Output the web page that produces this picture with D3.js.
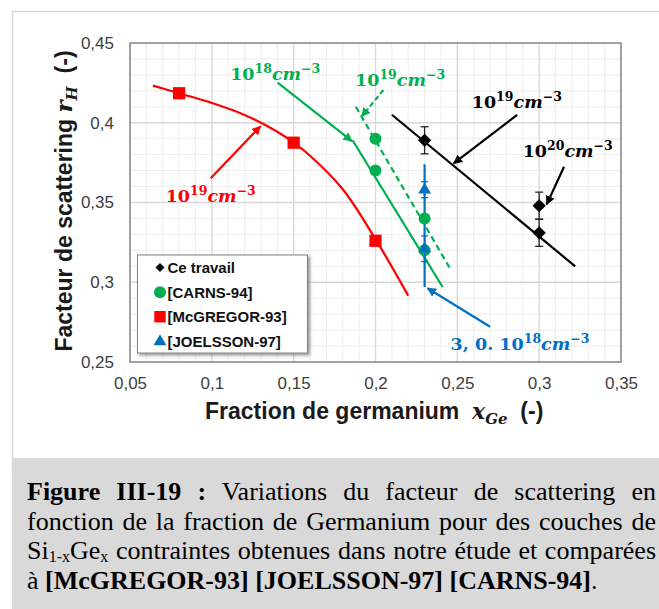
<!DOCTYPE html>
<html><head><meta charset="utf-8">
<script src="https://cdn.jsdelivr.net/npm/d3@7"></script>
<style>
body{margin:0;background:#fff;}
#wrap{position:relative;width:659px;height:609px;overflow:hidden;background:#fff;}
svg{position:absolute;left:0;top:0;}
#cap{position:absolute;left:27px;top:477px;width:629px;font-family:"Liberation Serif","Times New Roman",serif;font-size:26px;line-height:29.5px;color:#000;}
#cap div{text-align:justify;text-align-last:justify;height:29.5px;}
#cap div.last{text-align:left;text-align-last:left;}
#cap sub{font-size:16px;vertical-align:-3px;line-height:0;}
</style></head>
<body><div id="wrap"><svg id="chart" width="659" height="609"></svg>
<div id="cap">
<div><b>Figure III-19 :</b> Variations du facteur de scattering en</div>
<div>fonction de la fraction de Germanium pour des couches de</div>
<div>Si<sub>1-x</sub>Ge<sub>x</sub> contraintes obtenues dans notre étude et comparées</div>
<div class="last">à <b>[McGREGOR-93] [JOELSSON-97] [CARNS-94]</b>.</div>
</div></div>
<script>
// ---------- data ----------
const xTickVals = [0.05, 0.1, 0.15, 0.2, 0.25, 0.3, 0.35];
const xTickLabels = ["0,05", "0,1", "0,15", "0,2", "0,25", "0,3", "0,35"];
const yTickVals = [0.25, 0.3, 0.35, 0.4, 0.45];
const yTickLabels = ["0,25", "0,3", "0,35", "0,4", "0,45"];

const seriesNames = ["Ce travail", "[CARNS-94]", "[McGREGOR-93]", "[JOELSSON-97]"];

// Ce travail
const ceX = [0.23, 0.30, 0.30];
const ceY = [0.389, 0.348, 0.331];
const ceErr = [0.0085, 0.0085, 0.0085];
const ceFitX = [0.21, 0.322];
const ceFitY = [0.405, 0.310];

// CARNS-94
const carnsX = [0.20, 0.20, 0.23, 0.23];
const carnsY = [0.390, 0.370, 0.340, 0.320];
const carns18FitX = [0.186, 0.241];
const carns18FitY = [0.389, 0.297];
const carns19FitX = [0.188, 0.2455];
const carns19FitY = [0.410, 0.3087];

// McGREGOR-93
const mcgX = [0.08, 0.15, 0.20];
const mcgY = [0.4185, 0.3875, 0.326];
const mcgFitX = [0.064, 0.08, 0.10, 0.12, 0.14, 0.15, 0.16, 0.18, 0.20, 0.22];
const mcgFitY = [0.4233, 0.4185, 0.4124, 0.4049, 0.3944, 0.3875, 0.3793, 0.3583, 0.327, 0.2916];

// JOELSSON-97
const joelX = [0.23, 0.23];
const joelY = [0.358, 0.321];
const joelErr = [0.005, 0.008];
const joelLineX = [0.23, 0.23];
const joelLineY = [0.374, 0.297];

// annotations (data coordinates)
const arrows = [
  {x1: 0.2865, y1: 0.4049, x2: 0.2478, y2: 0.3745, c: "black", dash: false},
  {x1: 0.3152, y1: 0.3724, x2: 0.3046, y2: 0.3488, c: "black", dash: false},
  {x1: 0.1402, y1: 0.4251, x2: 0.1856, y2: 0.3885, c: "green", dash: false},
  {x1: 0.2048, y1: 0.4205, x2: 0.1916, y2: 0.4040, c: "green", dash: true},
  {x1: 0.0993, y1: 0.3652, x2: 0.1297, y2: 0.3978, c: "red", dash: false},
  {x1: 0.2700, y1: 0.2721, x2: 0.2318, y2: 0.2962, c: "blue", dash: false}
];
const labels = [
  {x: 0.1112, y: 0.4265, c: "green", pre: "", exp: "18"},
  {x: 0.1875, y: 0.4228, c: "green", pre: "", exp: "19"},
  {x: 0.2588, y: 0.4090, c: "black", pre: "", exp: "19"},
  {x: 0.2899, y: 0.3787, c: "black", pre: "", exp: "20"},
  {x: 0.0718, y: 0.3505, c: "red", pre: "", exp: "19"},
  {x: 0.2459, y: 0.2575, c: "blue", pre: "3, 0. ", exp: "18"}
];

const colors = {black: "#000000", green: "#00B050", red: "#FF0000", blue: "#0070C0"};

// ---------- chart ----------
const svg = d3.select("#chart");
const x = d3.scaleLinear().domain([0.05, 0.35]).range([130, 621]);
const y = d3.scaleLinear().domain([0.25, 0.45]).range([362, 43]);

// outer frame & caption background
svg.append("rect").attr("x", 12.5).attr("y", 11.5).attr("width", 700).attr("height", 460)
  .attr("fill", "#fff").attr("stroke", "#d9d9d9").attr("stroke-width", 1.5);
svg.append("rect").attr("x", 12).attr("y", 458).attr("width", 660).attr("height", 160).attr("fill", "#d9d9d9");

const defs = svg.append("defs");
Object.entries(colors).forEach(([k, c]) => {
  defs.append("marker").attr("id", "ah-" + k).attr("viewBox", "0 0 10 10")
    .attr("refX", 9).attr("refY", 5).attr("markerWidth", 4.2).attr("markerHeight", 4.2)
    .attr("markerUnits", "strokeWidth").attr("orient", "auto")
    .append("path").attr("d", "M0,0 L10,5 L0,10 Z").attr("fill", c);
});
const sh = defs.append("filter").attr("id", "shadow").attr("x", "-10%").attr("y", "-10%").attr("width", "130%").attr("height", "130%");
sh.append("feDropShadow").attr("dx", 2).attr("dy", 2).attr("stdDeviation", 1.8)
  .attr("flood-color", "#000").attr("flood-opacity", 0.4);
const clip = defs.append("clipPath").attr("id", "plotclip");
clip.append("rect").attr("x", 130).attr("y", 43).attr("width", 491).attr("height", 319);

// grid
const minorX = d3.range(5, 36, 1).map(v => v / 100);
const minorY = d3.range(25, 46, 1).map(v => v / 100);
const grid = svg.append("g");
grid.selectAll(".mx").data(minorX).join("line")
  .attr("x1", d => x(d)).attr("x2", d => x(d)).attr("y1", 43).attr("y2", 362)
  .attr("stroke", "#eeeeee").attr("stroke-width", 1);
grid.selectAll(".my").data(minorY).join("line")
  .attr("y1", d => y(d)).attr("y2", d => y(d)).attr("x1", 130).attr("x2", 621)
  .attr("stroke", "#eeeeee").attr("stroke-width", 1);
grid.selectAll(".Mx").data(xTickVals).join("line")
  .attr("x1", d => x(d)).attr("x2", d => x(d)).attr("y1", 43).attr("y2", 362)
  .attr("stroke", "#d9d9d9").attr("stroke-width", 1.3);
grid.selectAll(".My").data(yTickVals).join("line")
  .attr("y1", d => y(d)).attr("y2", d => y(d)).attr("x1", 130).attr("x2", 621)
  .attr("stroke", "#d9d9d9").attr("stroke-width", 1.3);
svg.append("rect").attr("x", 130).attr("y", 43).attr("width", 491).attr("height", 319)
  .attr("fill", "none").attr("stroke", "#808080").attr("stroke-width", 1.3);

// axes
const xAxis = svg.append("g").attr("transform", "translate(0,362)")
  .call(d3.axisBottom(x).tickValues(xTickVals).tickFormat((d, i) => xTickLabels[i]).tickSize(0).tickPadding(15));
const yAxis = svg.append("g").attr("transform", "translate(130,0)")
  .call(d3.axisLeft(y).tickValues(yTickVals).tickFormat((d, i) => yTickLabels[i]).tickSize(0).tickPadding(16));
[xAxis, yAxis].forEach(a => {
  a.select(".domain").remove();
  a.selectAll("text").attr("font-family", "'Liberation Sans', Arial, sans-serif")
    .attr("font-size", 17).attr("fill", "#404040");
});

// axis titles
const mathFont = "'DejaVu Serif', serif";
const xt = svg.append("text").attr("x", 205).attr("y", 419)
  .attr("font-family", "'Liberation Sans', Arial, sans-serif").attr("font-size", 23)
  .attr("font-weight", "bold").attr("fill", "#1a1a1a").style("white-space", "pre");
xt.append("tspan").text("Fraction de germanium  ");
xt.append("tspan").attr("font-family", mathFont).attr("font-style", "italic").attr("font-size", 22).text("x");
xt.append("tspan").attr("font-family", mathFont).attr("font-style", "italic").attr("font-size", 15).attr("dy", 5).text("Ge");
xt.append("tspan").attr("dy", -5).text("  (-)");

const yt = svg.append("text").attr("transform", "translate(72,201) rotate(-90)")
  .attr("text-anchor", "middle")
  .attr("font-family", "'Liberation Sans', Arial, sans-serif").attr("font-size", 23)
  .attr("font-weight", "bold").attr("fill", "#1a1a1a").style("white-space", "pre");
yt.append("tspan").text("Facteur de scattering ");
yt.append("tspan").attr("font-family", mathFont).attr("font-style", "italic").attr("font-size", 23).text("r");
yt.append("tspan").attr("font-family", mathFont).attr("font-style", "italic").attr("font-size", 15).attr("dy", 5).text("H");
yt.append("tspan").attr("dy", -5).text("  (-)");

// plot content
const plot = svg.append("g").attr("clip-path", "url(#plotclip)");
const zip = (a, b) => a.map((v, i) => [v, b[i]]);
const lineC = d3.line().x(d => x(d[0])).y(d => y(d[1])).curve(d3.curveCatmullRom);
const line = d3.line().x(d => x(d[0])).y(d => y(d[1]));

plot.append("path").attr("d", lineC(zip(mcgFitX, mcgFitY)))
  .attr("fill", "none").attr("stroke", colors.red).attr("stroke-width", 2.2);
plot.append("path").attr("d", line(zip(carns18FitX, carns18FitY)))
  .attr("fill", "none").attr("stroke", colors.green).attr("stroke-width", 2.2);
plot.append("path").attr("d", line(zip(carns19FitX, carns19FitY)))
  .attr("fill", "none").attr("stroke", colors.green).attr("stroke-width", 2.2).attr("stroke-dasharray", "6,4");
plot.append("path").attr("d", line(zip(ceFitX, ceFitY)))
  .attr("fill", "none").attr("stroke", colors.black).attr("stroke-width", 2.2);

// arrows
arrows.forEach(a => {
  plot.append("line").attr("x1", x(a.x1)).attr("y1", y(a.y1)).attr("x2", x(a.x2)).attr("y2", y(a.y2))
    .attr("stroke", colors[a.c]).attr("stroke-width", 2.2)
    .attr("stroke-dasharray", a.dash ? "5,3" : null)
    .attr("marker-end", `url(#ah-${a.c})`);
});

// blue vertical line
plot.append("path").attr("d", line(zip(joelLineX, joelLineY)))
  .attr("fill", "none").attr("stroke", colors.blue).attr("stroke-width", 2.2);

// error bars
function errBars(xs, ys, es, col, w) {
  const g = plot.append("g").attr("stroke", col).attr("stroke-width", 1.3);
  xs.forEach((xv, i) => {
    g.append("line").attr("x1", x(xv)).attr("x2", x(xv)).attr("y1", y(ys[i] - es[i])).attr("y2", y(ys[i] + es[i]));
    [ys[i] - es[i], ys[i] + es[i]].forEach(v => {
      g.append("line").attr("x1", x(xv) - w).attr("x2", x(xv) + w).attr("y1", y(v)).attr("y2", y(v));
    });
  });
}

// markers
const sq = d3.symbol().type(d3.symbolSquare);
plot.selectAll(".mcg").data(zip(mcgX, mcgY)).join("path")
  .attr("d", sq.size(150)()).attr("transform", d => `translate(${x(d[0])},${y(d[1])})`).attr("fill", colors.red);
plot.selectAll(".carns").data(zip(carnsX, carnsY)).join("circle")
  .attr("cx", d => x(d[0])).attr("cy", d => y(d[1])).attr("r", 6).attr("fill", colors.green);
errBars(joelX, joelY, joelErr, colors.blue, 3.5);
plot.selectAll(".joel").data(zip(joelX, joelY)).join("path")
  .attr("d", d3.symbol().type(d3.symbolTriangle).size(70)()).attr("transform", d => `translate(${x(d[0])},${y(d[1])})`).attr("fill", colors.blue);
errBars(ceX, ceY, ceErr, "#222", 4);
plot.selectAll(".ce").data(zip(ceX, ceY)).join("path")
  .attr("d", sq.size(88)()).attr("transform", d => `translate(${x(d[0])},${y(d[1])}) rotate(45)`).attr("fill", colors.black);

// annotation labels
labels.forEach(l => {
  const t = svg.append("text").attr("x", x(l.x)).attr("y", y(l.y))
    .attr("font-family", mathFont).attr("font-weight", "bold").attr("font-size", 17.5)
    .attr("fill", colors[l.c]).style("white-space", "pre");
  t.append("tspan").text(l.pre + "10");
  t.append("tspan").attr("font-size", 12.5).attr("dy", -7).text(l.exp);
  t.append("tspan").attr("font-style", "italic").attr("dy", 7).text("cm");
  t.append("tspan").attr("font-size", 12.5).attr("dy", -7).text("\u22123");
});

// legend
const lg = svg.append("g");
lg.append("rect").attr("x", 137.5).attr("y", 255).attr("width", 170).attr("height", 98)
  .attr("fill", "#fff").attr("stroke", "#808080").attr("stroke-width", 1).attr("filter", "url(#shadow)");
const legY = [267.5, 292.3, 316.7, 341.5];
const legSym = [
  g => g.append("path").attr("d", sq.size(40)()).attr("transform", "rotate(45)").attr("fill", colors.black),
  g => g.append("circle").attr("r", 6).attr("fill", colors.green),
  g => g.append("path").attr("d", sq.size(130)()).attr("fill", colors.red),
  g => g.append("path").attr("d", d3.symbol().type(d3.symbolTriangle).size(70)()).attr("fill", colors.blue)
];
seriesNames.forEach((n, i) => {
  const g = lg.append("g").attr("transform", `translate(160,${legY[i]})`);
  legSym[i](g);
  lg.append("text").attr("x", 167.5).attr("y", legY[i]).attr("dy", "0.36em")
    .attr("font-family", "'Liberation Sans', Arial, sans-serif").attr("font-weight", "bold")
    .attr("font-size", 15).attr("fill", "#111").text(n);
});
</script></body></html>
